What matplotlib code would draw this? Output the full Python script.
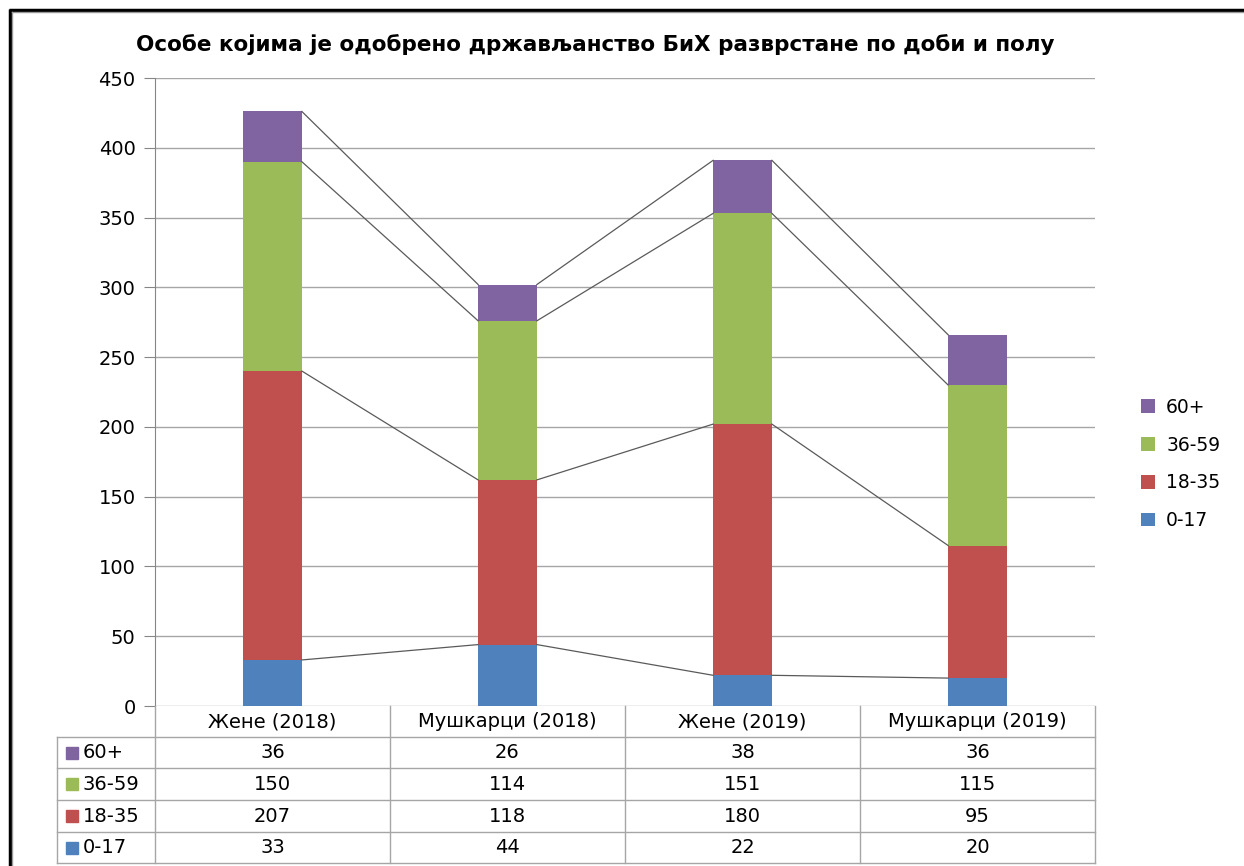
import numpy as np
import matplotlib.pyplot as plt
from matplotlib.patches import Rectangle
from matplotlib.lines import Line2D

# Data
categories = ['Жене (2018)', 'Мушкарци (2018)', 'Жене (2019)', 'Мушкарци (2019)']
groups = ['0-17', '18-35', '36-59', '60+']
age_0_17 = [33, 44, 22, 20]
age_18_35 = [207, 118, 180, 95]
age_36_59 = [150, 114, 151, 115]
age_60 = [36, 26, 38, 36]
colors = ['#4F81BD', '#C0504D', '#9BBB59', '#8064A2']
title = 'Особе којима је одобрено држављанство БиХ разврстане по доби и полу'

series = [age_0_17, age_18_35, age_36_59, age_60]

plt.rcParams['font.family'] = ['DejaVu Sans']

W, H = 1244, 866
fig = plt.figure(figsize=(W / 100, H / 100), dpi=100)

# plot area (pixel layout)
left, right, top, bottom = 155, 1095, 78, 706
ax = fig.add_axes([left / W, 1 - bottom / H, (right - left) / W, (bottom - top) / H])

x = np.arange(len(categories))
bw = 0.25
base = np.zeros(len(categories))
tops = []
for vals, c, g in zip(series, colors, groups):
    ax.bar(x, vals, bw, bottom=base, color=c, label=g, zorder=3)
    base = base + np.array(vals)
    tops.append(base.copy())

# series lines between bars
for lvl in tops:
    for i in range(len(categories) - 1):
        ax.plot([x[i] + bw / 2, x[i + 1] - bw / 2], [lvl[i], lvl[i + 1]],
                color='#5a5a5a', lw=0.9, zorder=4)

ax.set_xlim(-0.5, len(categories) - 0.5)
ax.set_ylim(0, 450)
ax.set_yticks(np.arange(0, 451, 50))
ax.set_xticks([])
ax.grid(axis='y', color='#a6a6a6', lw=1, zorder=0)
for s in ['top', 'right', 'bottom']:
    ax.spines[s].set_visible(False)
ax.spines['left'].set_color('#868686')
ax.tick_params(axis='y', length=8, color='#868686', labelsize=14, pad=6)

fig.text(595 / W, 1 - 45 / H, title, ha='center', va='center',
         fontsize=15.5, fontweight='bold')

# legend
handles, labels = ax.get_legend_handles_labels()
fig.legend(handles[::-1], labels[::-1], loc='center left',
           bbox_to_anchor=(1124 / W, 1 - 464 / H), frameon=False,
           fontsize=13.5, handlelength=0.75, handleheight=0.75,
           labelspacing=1.0, handletextpad=0.6)

# data table below the plot
tax = fig.add_axes([0, 0, 1, 1])
tax.set_xlim(0, W)
tax.set_ylim(H, 0)
tax.axis('off')
lc = '#a6a6a6'
tleft = 57
col_w = (right - left) / len(categories)
row_y = [706, 737, 768, 800, 832, 863]
# horizontal lines
for y in row_y[1:]:
    tax.add_line(Line2D([tleft, right], [y, y], color=lc, lw=1))
# vertical lines
for j in range(len(categories) + 1):
    xx = left + j * col_w
    tax.add_line(Line2D([xx, xx], [row_y[0], row_y[-1]], color=lc, lw=1))
tax.add_line(Line2D([tleft, tleft], [row_y[1], row_y[-1]], color=lc, lw=1))

for j, cat in enumerate(categories):
    tax.text(left + (j + 0.5) * col_w, (row_y[0] + row_y[1]) / 2, cat,
             ha='center', va='center', fontsize=14)

for r, (vals, c, g) in enumerate(zip(series[::-1], colors[::-1], groups[::-1])):
    yc = (row_y[r + 1] + row_y[r + 2]) / 2
    tax.add_patch(Rectangle((66, yc - 6), 12, 12, color=c))
    tax.text(83, yc, g, ha='left', va='center', fontsize=14)
    for j, v in enumerate(vals):
        tax.text(left + (j + 0.5) * col_w, yc, str(v), ha='center',
                 va='center', fontsize=14)

# outer frame (top and left)
tax.add_line(Line2D([9, W], [9.5, 9.5], color='black', lw=2.5,
                    solid_capstyle='butt'))
tax.add_line(Line2D([9.5, 9.5], [9, H], color='black', lw=2.5,
                    solid_capstyle='butt'))
tax.add_line(Line2D([12, W], [12, 12], color='#999999', lw=1))
tax.add_line(Line2D([12, 12], [12, H], color='#999999', lw=1))

fig.savefig('out.png', dpi=100)
